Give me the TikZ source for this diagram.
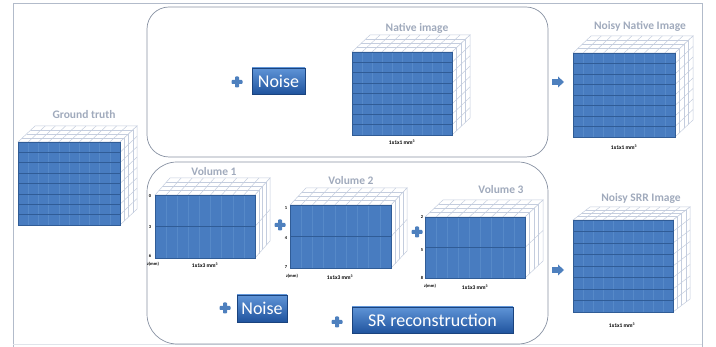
\documentclass[tikz,border=0pt]{standalone}
\usepackage{fontspec}
\setmainfont{Carlito}
\definecolor{vblue}{RGB}{72,124,192}
\definecolor{vline}{RGB}{48,92,150}
\definecolor{vfaint}{RGB}{86,137,200}
\definecolor{gridc}{RGB}{196,205,222}
\definecolor{framec}{RGB}{135,145,162}
\definecolor{outerc}{RGB}{178,187,202}
\definecolor{labc}{RGB}{160,170,188}
\definecolor{btop}{RGB}{95,148,215}
\definecolor{bbot}{RGB}{32,84,158}
\definecolor{plusc}{RGB}{78,128,190}
\newcommand\voxcube[9]{%
 \begin{scope}[shift={(#1,#2)}]
  \pgfmathsetmacro\cW{#3}\pgfmathsetmacro\cH{#4}%
  \pgfmathsetmacro\cdx{#5}\pgfmathsetmacro\cdy{#6}%
  \pgfmathtruncatemacro\cR{#7-1}\pgfmathtruncatemacro\cC{#8-1}\pgfmathtruncatemacro\cD{#9-1}%
  \filldraw[fill=white,draw=gridc,line width=0.5pt] (0,0)--(\cW,0)--(\cW+\cdx,-\cdy)--(\cdx,-\cdy)--cycle;
  \filldraw[fill=white,draw=gridc,line width=0.5pt] (\cW,0)--(\cW+\cdx,-\cdy)--(\cW+\cdx,\cH-\cdy)--(\cW,\cH)--cycle;
  \foreach \i in {1,...,\cC}{\draw[gridc,line width=0.5pt] (\i*\cW/#8,0)--++(\cdx,-\cdy);}
  \foreach \j in {1,...,\cD}{\draw[gridc,line width=0.5pt] (\j*\cdx/#9,-\j*\cdy/#9)--++(\cW,0)--++(0,\cH);}
  \foreach \i in {1,...,\cR}{\draw[gridc,line width=0.5pt] (\cW,\i*\cH/#7)--++(\cdx,-\cdy);}
  \fill[vblue] (0,0) rectangle (\cW,\cH);
  \foreach \i in {1,...,\cC}{\draw[vfaint,line width=0.4pt] (\i*\cW/#8,0)--++(0,\cH);}
  \foreach \i in {1,...,\cR}{\draw[vline,line width=0.6pt] (0,\i*\cH/#7)--++(\cW,0);}
  \draw[vline,line width=0.4pt] (0,0) rectangle (\cW,\cH);
 \end{scope}}
\tikzset{
 lab/.style={font=\bfseries\fontsize{11.5}{12}\selectfont,text=labc,inner sep=0pt},
 dim/.style={font=\bfseries\fontsize{5.5}{6}\selectfont,inner sep=0pt},
 tick/.style={font=\bfseries\fontsize{4.5}{5}\selectfont,inner sep=0pt},
 bbox/.style={top color=btop,bottom color=bbot,draw=bbot!80!black,line width=0.3pt,text=white,inner sep=0pt,font=\fontsize{18}{19}\selectfont},
 panel/.style={draw=framec,line width=0.7pt},
 plussign/.style={fill=plusc},
 blockarrow/.style={fill=plusc}
}
\newcommand\plusat[2]{\fill[plussign,rounded corners=0.8pt] (#1-5.5,#2-2)rectangle(#1+5.5,#2+2); \fill[plussign,rounded corners=0.8pt] (#1-2,#2-5.5)rectangle(#1+2,#2+5.5);}
\newcommand\arrowat[2]{\fill[blockarrow] (#1,#2-2.8)--(#1+6,#2-2.8)--(#1+6,#2-5.5)--(#1+12,#2)--(#1+6,#2+5.5)--(#1+6,#2+2.8)--(#1,#2+2.8)--cycle;}
\begin{document}
\begin{tikzpicture}[x=1pt,y=-1pt]
\useasboundingbox (0,0) rectangle (716,347);
% outer frame
\draw[outerc,line width=0.7pt] (13,347)--(13,3)--(702,3)--(702,347);
\draw[outerc!40,line width=0.5pt] (13,344)--(702,344);
% panels
\draw[panel,rounded corners=22pt] (147,7) rectangle (548,157);
\draw[panel,rounded corners=30pt] (147,162) rectangle (548,344);
% ground truth
\voxcube{18}{142}{102}{83}{17}{16}{8}{10}{4}
\node[lab] (gt) at (84,115) {Ground truth};
% native
\voxcube{352}{52}{100}{83}{18}{17}{8}{10}{4}
\node[lab] (nat) at (417,28) {Native image};
\node[dim] (natd) at (402,142) {1x1x1 mm\textsuperscript{3}};
\plusat{237}{82}
\node[bbox,minimum width=53pt,minimum height=26pt] (noise1) at (278.5,81) {Noise};
% noisy native
\voxcube{573}{53}{102}{84}{18}{17}{8}{10}{4}
\node[lab] (nn) at (640,26) {Noisy Native Image};
\node[dim] (nnd) at (624,147) {1x1x1 mm\textsuperscript{3}};
\arrowat{552}{82}
% noisy SRR
\voxcube{573}{220}{100}{92}{17}{13}{8}{10}{4}
\node[lab] (ns) at (641,198) {Noisy SRR Image};
\node[dim] (nsd) at (622,325) {1x1x1 mm\textsuperscript{3}};
\arrowat{552}{270}
% volume 1
\voxcube{155}{195}{100}{63}{15}{17}{2}{9}{4}
\node[lab] (v1) at (214,172) {Volume 1};
\node[tick] at (150,196) {0};
\node[tick] at (150,227) {3};
\node[tick] at (150,256) {6};
\node[tick] at (153,264) {z(mm)};
\node[dim] (v1d) at (205,265) {1x1x3 mm\textsuperscript{3}};
\plusat{280}{225}
% volume 2
\voxcube{290}{205}{101}{63}{16}{17}{2}{9}{4}
\node[lab] (v2) at (351,181) {Volume 2};
\node[tick] at (286,208) {1};
\node[tick] at (286,238) {4};
\node[tick] at (286,267) {7};
\node[tick] at (292,276) {z(mm)};
\node[dim] (v2d) at (340,277) {1x1x3 mm\textsuperscript{3}};
\plusat{417}{232}
% volume 3
\voxcube{425}{217}{100}{61}{18}{17}{2}{9}{4}
\node[lab] (v3) at (501,190) {Volume 3};
\node[tick] at (422,217) {2};
\node[tick] at (422,250) {5};
\node[tick] at (422,278) {8};
\node[tick] at (430,286) {z(mm)};
\node[dim] (v3d) at (475,287) {1x1x3 mm\textsuperscript{3}};
% bottom noise / SR
\plusat{225}{308}
\node[bbox,minimum width=50pt,minimum height=27pt] (noise2) at (262,308.5) {Noise};
\plusat{337}{322}
\node[bbox,minimum width=161pt,minimum height=26pt] (sr) at (432.5,320) {SR reconstruction};
\end{tikzpicture}
\end{document}
